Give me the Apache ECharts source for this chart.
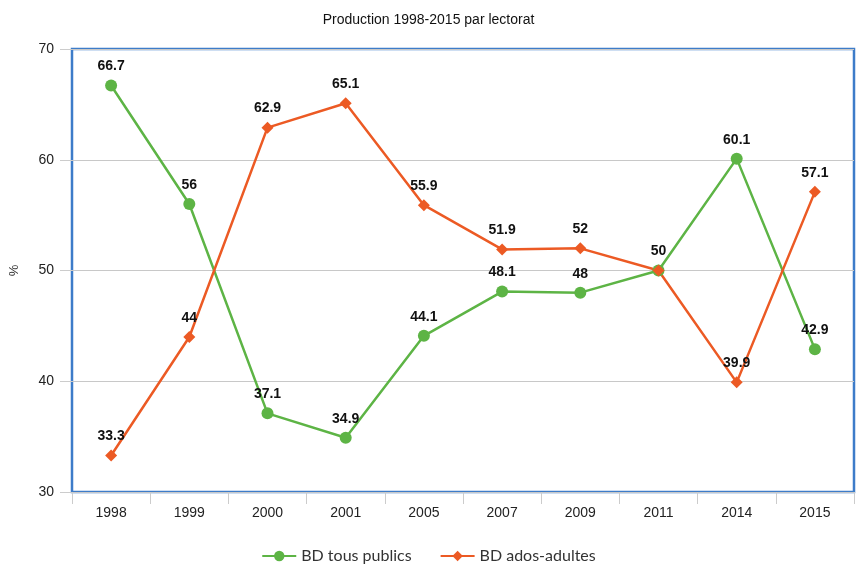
<!DOCTYPE html>
<html>
<head>
<meta charset="utf-8">
<script src="https://cdn.jsdelivr.net/npm/echarts@6/dist/echarts.min.js"></script>
<style>html,body{margin:0;padding:0;background:#fff}#c{width:857px;height:569px}</style>
</head>
<body>
<div id="c"></div>
<script>
var categories = ['1998','1999','2000','2001','2005','2007','2009','2011','2014','2015'];
var tousPublics = [66.7, 56, 37.1, 34.9, 44.1, 48.1, 48, 50, 60.1, 42.9];
var adosAdultes = [33.3, 44, 62.9, 65.1, 55.9, 51.9, 52, 50, 39.9, 57.1];
var yTicks = [30, 40, 50, 60, 70];

var chart = echarts.init(document.getElementById('c'));
var labelStyle = {show: true, position: 'top', distance: 6, color: '#111', fontFamily: 'Liberation Sans, Arial', fontWeight: 'bold', fontSize: 14};
chart.setOption({
  animation: false,
  title: {text: 'Production 1998-2015 par lectorat', left: 'center', top: 8,
    textStyle: {fontFamily: 'Liberation Sans Narrow, Liberation Sans, Arial', fontWeight: 'normal', fontSize: 14, color: '#111'}},
  grid: {left: 72, right: 3, top: 49, bottom: 77, show: true, borderColor: '#3d7cc9', borderWidth: 2.5, backgroundColor: '#fff',
    outerBoundsMode: 'none', containLabel: false},
  legend: {bottom: 0, left: 'center', itemWidth: 34, itemHeight: 13, itemGap: 28,
    textStyle: {fontFamily: 'Lato, Noto Sans', fontSize: 16, color: '#333'},
    data: ['BD tous publics', 'BD ados-adultes']},
  xAxis: {type: 'category', data: categories, boundaryGap: true,
    axisLine: {show: false},
    axisTick: {show: true, length: 12, lineStyle: {color: '#ccc'}},
    axisLabel: {color: '#222', fontFamily: 'Liberation Sans, Arial', fontSize: 14, margin: 14}},
  yAxis: {type: 'value', min: yTicks[0], max: yTicks[yTicks.length - 1], interval: 10,
    name: '%', nameLocation: 'middle', nameGap: 51, nameRotate: 90,
    nameTextStyle: {color: '#333', fontFamily: 'Liberation Sans, Arial', fontSize: 13},
    axisLine: {show: false},
    axisTick: {show: true, length: 12, lineStyle: {color: '#ccc'}},
    axisLabel: {color: '#222', fontFamily: 'Liberation Sans, Arial', fontSize: 14, margin: 18},
    splitLine: {lineStyle: {color: '#c8c8c8', width: 1}}},
  series: [
    {name: 'BD tous publics', type: 'line', data: tousPublics, symbol: 'circle', symbolSize: 12,
      lineStyle: {color: '#5db445', width: 2.5}, itemStyle: {color: '#5db445'}, label: labelStyle,
      labelLayout: {hideOverlap: true}},
    {name: 'BD ados-adultes', type: 'line', data: adosAdultes, symbol: 'diamond', symbolSize: 12,
      lineStyle: {color: '#ec5a24', width: 2.5}, itemStyle: {color: '#ec5a24'}, label: labelStyle,
      labelLayout: {hideOverlap: true}}
  ]
});
</script>
</body>
</html>
